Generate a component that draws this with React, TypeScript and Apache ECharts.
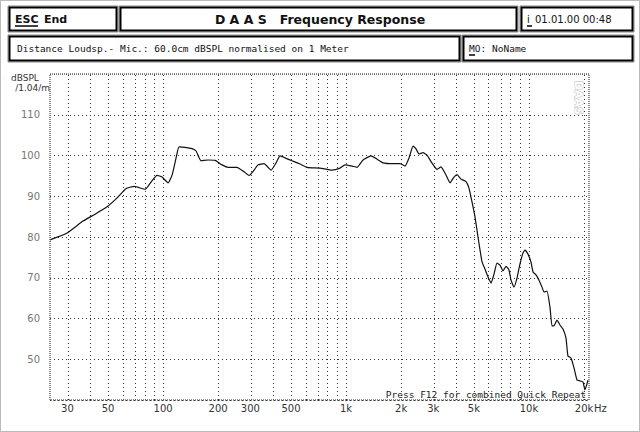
import React, { useEffect, useRef } from "react";
import * as echarts from "echarts";

// Frequency (Hz) of each measured point
const freqHz = [
  24.1, 29.9, 36.5, 42.5, 49.4, 56.1, 62.8, 69.5, 79.8, 86,
  92.7, 98.7, 106.5, 112, 117.8, 122.3, 131.9, 144, 151.5, 161.3,
  176.2, 192.4, 210.1, 226.6, 253.7, 277.1, 295.1, 314.3, 330.5, 356.4,
  389.2, 414.5, 435.9, 470, 507, 560.6, 612.2, 721, 838.6, 927.3,
  987.4, 1079, 1148, 1239, 1370, 1477, 1593, 1806, 1973, 2101,
  2210, 2324, 2413, 2506, 2635, 2771, 2914, 3064, 3143, 3304,
  3519, 3701, 3892, 4042, 4250, 4526, 4700, 4881, 5070, 5265,
  5399, 5537, 5750, 5970, 6200, 6438, 6686, 6943, 7210, 7487,
  7775, 7973, 8279, 8598, 8929, 9273, 9508, 9874, 10250, 10520,
  10920, 11340, 11780, 12080, 12540, 13020, 13360, 13690, 14220, 14770,
  15340, 15930, 16330, 16960, 17620, 18290, 19000, 19730, 20230, 21010,
];

// Sound pressure level (dB SPL) at each frequency
const splDb = [
  79.3, 81.0, 83.9, 85.6, 87.4, 89.6, 91.9, 92.4, 91.7, 93.5,
  95.1, 94.7, 93.3, 95.2, 99.4, 102.1, 102.0, 101.7, 101.1, 98.7,
  98.9, 98.8, 97.7, 97.1, 97.1, 96.0, 95.1, 96.4, 97.7, 98.0,
  96.4, 98.2, 99.9, 99.3, 98.7, 97.9, 97.1, 96.9, 96.4, 96.9,
  97.7, 97.4, 97.1, 98.9, 99.9, 99.1, 98.2, 98.0, 98.0, 97.4,
  99.4, 102.3, 101.6, 100.4, 100.7, 100.1, 98.5, 97.1, 96.6, 97.2,
  95.2, 93.3, 94.7, 95.3, 94.2, 93.6, 92.0, 88.6, 84.9, 80.0,
  76.8, 73.9, 72.1, 70.2, 68.7, 70.9, 73.6, 73.1, 71.7, 72.8,
  71.9, 69.4, 67.7, 69.9, 73.4, 76.1, 76.8, 75.8, 73.9, 71.4,
  70.7, 69.4, 67.7, 66.5, 66.7, 62.8, 58.2, 58.2, 59.6, 58.4,
  57.4, 55.2, 50.8, 50.3, 47.9, 44.9, 44.7, 44.4, 42.5, 44.9,
];

// Axis ranges
const xMinHz = 24.1;
const xMaxHz = 21280;
const yMin = 40;
const yMax = 120;
const yStep = 10;

// Vertical grid lines (Hz)
const gridFreqs = [
  30, 40, 50, 60, 70, 80, 90,
  100, 200, 300, 400, 500, 600, 700, 800, 900,
  1000, 2000, 3000, 4000, 5000, 6000, 7000, 8000, 9000,
  10000, 20000,
];

// Frequency tick labels
const tickFreqs = [30, 50, 100, 200, 300, 500, 1000, 2000, 3000, 5000, 10000, 20000];
const tickLabels = ["30", "50", "100", "200", "300", "500", "1k", "2k", "3k", "5k", "10k", "20k"];

const FONT = "DejaVu Sans";
const MONO = "DejaVu Sans Mono";

export default function App() {
  const ref = useRef<HTMLDivElement>(null);

  useEffect(() => {
    document.body.style.margin = "0";
    if (!ref.current) return;
    const chart = echarts.init(ref.current, null, { renderer: "svg" });

    const lineData = freqHz.map((f, i) => [Math.log10(f), splDb[i]]);
    const labelMap: Record<string, string> = {};
    tickFreqs.forEach((f, i) => {
      labelMap[Math.log10(f).toFixed(5)] = tickLabels[i];
    });

    const box = (x: number, y: number, w: number, h: number) => [
      {
        type: "rect",
        shape: { x: x - 1, y: y - 1, width: w + 2, height: h + 2 },
        style: { fill: "none", stroke: "#888", lineWidth: 1 },
        silent: true,
      },
      {
        type: "rect",
        shape: { x: x + 0.5, y: y + 0.5, width: w - 1, height: h - 1 },
        style: { fill: "#fff", stroke: "#000", lineWidth: 2 },
        silent: true,
      },
    ];

    const txt = (
      x: number,
      y: number,
      text: string,
      size: number,
      opts: any = {}
    ) => ({
      type: "text",
      x,
      y,
      silent: true,
      style: {
        text,
        fontFamily: FONT,
        fontSize: size,
        fill: "#111",
        textVerticalAlign: "middle",
        textAlign: "left",
        ...opts,
      },
    });

    const underline = (x1: number, x2: number, y: number) => ({
      type: "line",
      silent: true,
      shape: { x1, y1: y, x2, y2: y },
      style: { stroke: "#000", lineWidth: 1.5 },
    });

    const graphics: any[] = [
      {
        type: "rect",
        shape: { x: 0.5, y: 0.5, width: 639, height: 431 },
        style: { fill: "none", stroke: "#777", lineWidth: 1, lineDash: [1, 1] },
        silent: true,
      },
      ...box(9, 7, 108, 24),
      ...box(120, 7, 397, 24),
      ...box(521, 7, 112, 24),
      ...box(9, 36, 451, 25),
      ...box(463, 36, 170, 25),
      txt(15, 19, "ESC", 11, { fontWeight: "bold" }),
      underline(15, 38, 26),
      txt(44, 19, "End", 11, { fontWeight: "bold" }),
      txt(320, 19.5, "D A A S   Frequency Response", 12.5, {
        fontWeight: "bold",
        textAlign: "center",
      }),
      txt(527, 19, "i", 10),
      underline(527, 532, 26),
      txt(535, 19, "01.01.00 00:48", 10),
      txt(17, 48.5, "Distance Loudsp.- Mic.: 60.0cm dBSPL normalised on 1 Meter", 9.5, {
        fontFamily: MONO,
      }),
      txt(469, 48.5, "MO:", 9.5, { fontFamily: MONO }),
      underline(469, 475, 55),
      txt(492, 48.5, "NoName", 9.5, { fontFamily: MONO }),
      txt(11, 78, "dBSPL", 9, { fill: "#333" }),
      txt(50, 88, "/1.04/m", 9, { fill: "#333", textAlign: "right" }),
      {
        type: "rect",
        shape: { x: 50, y: 74, width: 539, height: 326 },
        style: { fill: "none", stroke: "#666", lineWidth: 1.5, lineDash: [1, 1] },
        silent: true,
        z: 10,
      },
      {
        type: "text",
        x: 578,
        y: 98,
        rotation: -Math.PI / 2,
        silent: true,
        style: {
          text: "DAAS",
          fontFamily: FONT,
          fontSize: 11,
          fontWeight: "bold",
          fill: "#fff",
          stroke: "#bbb",
          lineWidth: 1,
          textAlign: "center",
          textVerticalAlign: "middle",
        },
      },
      txt(586, 394, "Press F12 for combined Quick Repeat", 9.5, {
        textAlign: "right",
        fill: "#222",
        fontFamily: MONO,
      }),
      txt(594, 408.5, "Hz", 10, { fill: "#333" }),
    ];

    chart.setOption({
      animation: false,
      backgroundColor: "#fff",
      grid: { left: 50, top: 74, width: 539, height: 326, show: false },
      xAxis: {
        type: "value",
        min: Math.log10(xMinHz),
        max: Math.log10(xMaxHz),
        axisLine: { show: false },
        axisTick: { show: false },
        splitLine: { show: false },
        axisLabel: {
          customValues: tickFreqs.map((f) => Math.log10(f)),
          formatter: (v: number) => labelMap[v.toFixed(5)] ?? "",
          color: "#333",
          fontFamily: FONT,
          fontSize: 10,
          margin: 3,
          showMinLabel: true,
          showMaxLabel: true,
        },
      },
      yAxis: {
        type: "value",
        min: yMin,
        max: yMax,
        interval: yStep,
        axisLine: { show: false },
        axisTick: { show: false },
        axisLabel: {
          formatter: (v: number) => (v === yMin || v === yMax ? "" : String(v)),
          color: "#777",
          fontFamily: FONT,
          fontSize: 10,
          margin: 10,
        },
        splitLine: {
          show: true,
          lineStyle: { type: [1, 3], color: "#333", width: 1 },
        },
      },
      graphic: graphics,
      series: [
        {
          type: "line",
          data: lineData,
          showSymbol: false,
          smooth: 0.15,
          lineStyle: { color: "#111", width: 1.2 },
          z: 5,
          markLine: {
            silent: true,
            symbol: "none",
            label: { show: false },
            lineStyle: { type: [1, 3], color: "#333", width: 1 },
            data: gridFreqs.map((f) => ({ xAxis: Math.log10(f) })),
          },
        },
      ],
    });

    return () => chart.dispose();
  }, []);

  return <div ref={ref} style={{ width: 640, height: 432 }} />;
}
